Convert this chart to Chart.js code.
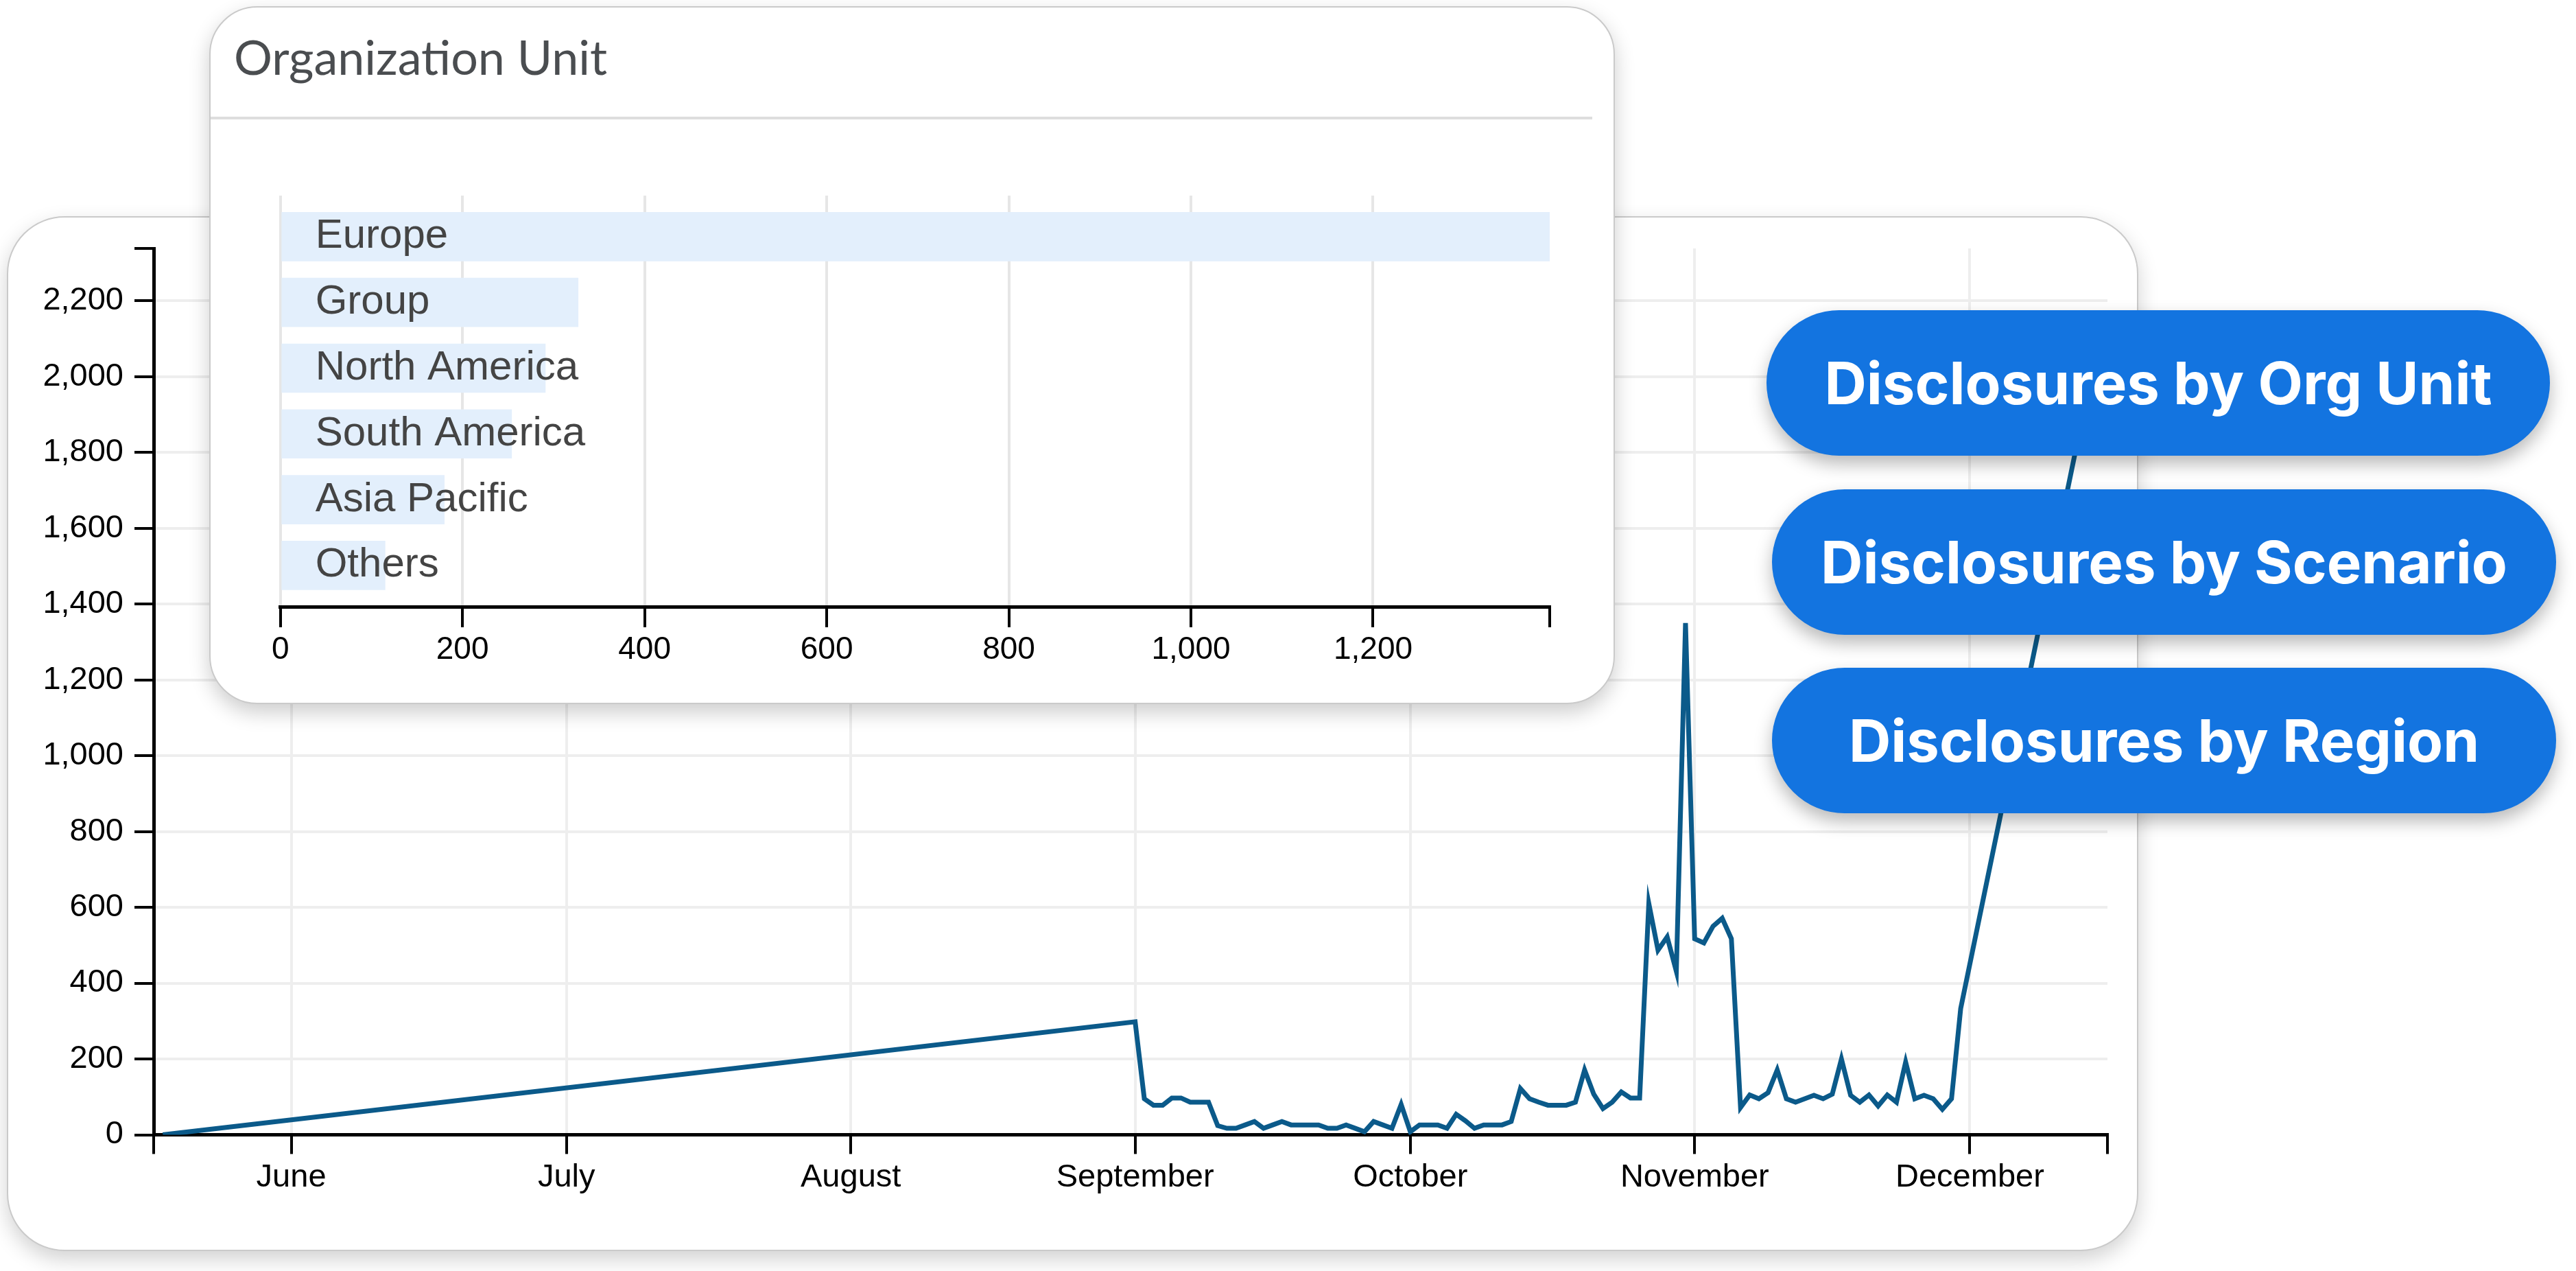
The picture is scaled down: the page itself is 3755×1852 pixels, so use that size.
<!DOCTYPE html>
<html>
<head>
<meta charset="utf-8">
<script src="https://cdn.jsdelivr.net/npm/chart.js@4.4.1/dist/chart.umd.min.js"></script>
<style>
  html, body { margin: 0; padding: 0; background: #ffffff; width: 3755px; height: 1852px; overflow: hidden; }
  .card { position: absolute; background: #ffffff; border: 2px solid #cacaca; box-sizing: border-box; }
  #mainCard { left: 10px; top: 315px; width: 3107px; height: 1508px; border-radius: 84px; box-shadow: 0 12px 30px rgba(0,0,0,0.18); z-index: 1; }
  #mainCanvas { position: absolute; left: 0; top: 0; z-index: 2; }
  #barCard { left: 305px; top: 9px; width: 2049px; height: 1017px; border-radius: 70px; box-shadow: 0 12px 30px rgba(0,0,0,0.20); z-index: 3; }
  #barTitle { position: absolute; left: 341px; top: 40px; font-family: Lato, sans-serif; font-size: 70px; line-height: 1.2; color: #4a4d50; z-index: 4; white-space: nowrap; }
  #barSep { position: absolute; left: 307px; top: 170px; width: 2014px; height: 4px; background: #dedede; z-index: 4; }
  #barCanvas { position: absolute; left: 307px; top: 10px; z-index: 4; }
  .btn { position: absolute; z-index: 5; background: #1374e0; color: #ffffff; font-family: Inter, sans-serif; font-weight: 700; font-size: 85px; display: flex; align-items: center; justify-content: center; border-radius: 110px; box-shadow: 0 12px 26px rgba(0,0,0,0.28); white-space: nowrap; }
  #btn1 { left: 2575px; top: 452px; width: 1142px; height: 212px; }
  #btn2 { left: 2583px; top: 713px; width: 1143px; height: 212px; }
  #btn3 { left: 2583px; top: 973px; width: 1143px; height: 212px; }
</style>
</head>
<body>
<div class="card" id="mainCard"></div>
<canvas id="mainCanvas" width="3755" height="1852"></canvas>
<div class="card" id="barCard"></div>
<div id="barTitle">Organization Unit</div>
<div id="barSep"></div>
<canvas id="barCanvas" width="2046" height="1015"></canvas>
<div class="btn" id="btn1">Disclosures by Org Unit</div>
<div class="btn" id="btn2">Disclosures by Scenario</div>
<div class="btn" id="btn3">Disclosures by Region</div>

<script>
// ---------- Line chart data (daily disclosures) ----------
const axisStartDate = '2024-05-17';
const axisEndDate = '2024-12-16';
const monthTickDates = ['2024-06-01', '2024-07-01', '2024-08-01', '2024-09-01', '2024-10-01', '2024-11-01', '2024-12-01'];
const monthTickLabels = ['June', 'July', 'August', 'September', 'October', 'November', 'December'];

const earlyDates = ['2024-05-18'];
const earlyValues = [0];
// index 0 = 1st day of the month
const septemberValues = [298, 95, 78, 78, 97, 97, 86, 86, 86, 24, 17, 17, 26, 35, 17, 26, 35, 26, 26, 26, 26, 17, 17, 26, 17, 8, 35, 26, 17, 80];
const octoberValues = [8, 26, 26, 26, 17, 54, 37, 17, 26, 26, 26, 35, 122, 95, 86, 78, 78, 78, 86, 171, 107, 69, 86, 113, 97, 97, 610, 487, 522, 431, 1350];
const novemberValues = [517, 506, 550, 571, 517, 72, 105, 95, 111, 171, 95, 86, 95, 104, 95, 107, 200, 104, 86, 105, 76, 105, 86, 192, 95, 104, 95, 67, 95, 333];
const lateDates = ['2024-12-15'];
const lateValues = [2095];

const yAxisTop = 2338;
const yTickValues = [0, 200, 400, 600, 800, 1000, 1200, 1400, 1600, 1800, 2000, 2200];

// ---------- Bar chart data ----------
const orgUnits = ['Europe', 'Group', 'North America', 'South America', 'Asia Pacific', 'Others'];
const orgCounts = [1394, 327, 291, 254, 180, 115];
const barTickValues = [0, 200, 400, 600, 800, 1000, 1200];

// ---------- helpers ----------
const toDay = s => Date.UTC(+s.slice(0, 4), +s.slice(5, 7) - 1, +s.slice(8, 10)) / 86400000;
const monthPoints = (y, m, vals) => vals.map((v, i) => ({ x: Date.UTC(y, m - 1, i + 1) / 86400000, y: v }));

const linePoints = []
  .concat(earlyDates.map((d, i) => ({ x: toDay(d), y: earlyValues[i] })))
  .concat(monthPoints(2024, 9, septemberValues))
  .concat(monthPoints(2024, 10, octoberValues))
  .concat(monthPoints(2024, 11, novemberValues))
  .concat(lateDates.map((d, i) => ({ x: toDay(d), y: lateValues[i] })));

const xMin = toDay(axisStartDate);
const xMax = toDay(axisEndDate);
const monthDays = monthTickDates.map(toDay);

Chart.defaults.font.family = "'Liberation Sans', Arial, sans-serif";
Chart.defaults.color = '#000';

const GRID = '#eeeeee';
const NONE = 'rgba(0,0,0,0)';

new Chart(document.getElementById('mainCanvas'), {
  type: 'line',
  data: {
    datasets: [{
      data: linePoints,
      borderColor: '#0b5a8a',
      borderWidth: 7,
      pointRadius: 0,
      tension: 0,
      fill: false,
      borderJoinStyle: 'miter'
    }]
  },
  options: {
    responsive: false,
    animation: false,
    layout: { padding: { left: 0, right: 683, top: 362, bottom: 78.5 } },
    plugins: { legend: { display: false }, tooltip: { enabled: false } },
    scales: {
      x: {
        type: 'linear',
        min: xMin,
        max: xMax,
        afterBuildTicks: s => { s.ticks = [xMin].concat(monthDays, [xMax]).map(v => ({ value: v })); },
        afterFit: s => { s.height = 120; },
        ticks: {
          autoSkip: false, maxRotation: 0, minRotation: 0,
          padding: 6,
          font: { size: 47 },
          color: '#000',
          callback: v => { const i = monthDays.indexOf(v); return i >= 0 ? monthTickLabels[i] : ''; }
        },
        grid: {
          color: c => (c.tick && (c.tick.value === xMin || c.tick.value === xMax)) ? NONE : GRID,
          lineWidth: 4,
          tickLength: 28,
          tickColor: '#000',
          tickWidth: 4
        },
        border: { color: '#000', width: 5 }
      },
      y: {
        type: 'linear',
        min: 0,
        max: yAxisTop,
        afterBuildTicks: s => { s.ticks = yTickValues.concat([yAxisTop]).map(v => ({ value: v })); },
        afterFit: s => { s.width = 224; },
        ticks: {
          autoSkip: false,
          padding: 16,
          font: { size: 47 },
          color: '#000',
          callback: v => v === yAxisTop ? '' : v.toLocaleString('en-US')
        },
        grid: {
          color: c => (c.tick && (c.tick.value === 0 || c.tick.value === yAxisTop)) ? NONE : GRID,
          lineWidth: 4,
          tickLength: 28,
          tickColor: '#000',
          tickWidth: 4
        },
        border: { color: '#000', width: 5 }
      }
    }
  }
});

const barMax = orgCounts[0];
new Chart(document.getElementById('barCanvas'), {
  type: 'bar',
  data: {
    datasets: [{
      data: orgCounts.map((v, i) => ({ x: v, y: i })),
      backgroundColor: '#e3effc',
      borderWidth: 0,
      barThickness: 71
    }]
  },
  options: {
    indexAxis: 'y',
    responsive: false,
    animation: false,
    layout: { padding: { left: 101.7, right: 94, top: 275, bottom: 41 } },
    plugins: { legend: { display: false }, tooltip: { enabled: false } },
    scales: {
      x: {
        type: 'linear',
        position: 'bottom',
        min: 0,
        max: barMax,
        afterBuildTicks: s => { s.ticks = barTickValues.concat([barMax]).map(v => ({ value: v })); },
        afterFit: s => { s.height = 100; },
        ticks: {
          autoSkip: false, maxRotation: 0,
          padding: 6,
          font: { size: 46 },
          color: '#000',
          callback: v => v === barMax ? '' : v.toLocaleString('en-US')
        },
        grid: {
          color: c => (c.tick && c.tick.value === barMax) ? NONE : '#e6e6e6',
          lineWidth: 4,
          tickLength: 30,
          tickColor: '#000',
          tickWidth: 4
        },
        border: { color: '#000', width: 5 }
      },
      y: {
        type: 'linear',
        reverse: true,
        offset: false,
        min: -0.625,
        max: 5.628,
        afterBuildTicks: s => { s.ticks = orgUnits.map((_, i) => ({ value: i })); },
        afterFit: s => { s.width = 0; },
        ticks: {
          mirror: true,
          padding: 51,
          z: 1,
          autoSkip: false,
          font: { size: 60 },
          color: '#444',
          callback: v => orgUnits[v]
        },
        grid: { display: false, offset: false },
        border: { display: false }
      }
    }
  }
});
</script>
</body>
</html>
